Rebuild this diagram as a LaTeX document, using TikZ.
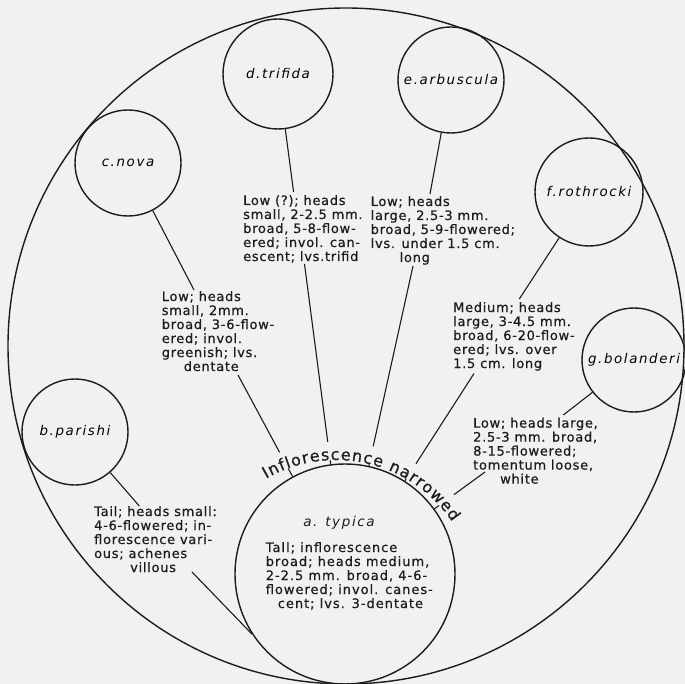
\documentclass[tikz,border=0pt]{standalone}
\usepackage{fontspec}
\setmainfont{DejaVu Sans}
\newfontfamily\notefont[LetterSpace=5.5,FakeBold=0.6]{DejaVu Sans}
\newfontfamily\widenotefont[LetterSpace=7.5,FakeBold=0.6]{DejaVu Sans}
\newfontfamily\taxonfont[LetterSpace=12,ItalicFont={DejaVu Sans Oblique}]{DejaVu Sans}
\newfontfamily\arcfont[FakeBold=0.6]{DejaVu Sans}
\usetikzlibrary{decorations.text}
\definecolor{paper}{RGB}{241,241,241}
\definecolor{ink}{RGB}{28,28,28}
\begin{document}
\begin{tikzpicture}[x=1pt,y=-1pt,
  ring/.style={circle, draw=ink, line width=1.4pt, minimum size=#1, inner sep=0pt,
    font=\taxonfont\itshape\fontsize{13.4}{15}\selectfont},
  note/.style={align=left, inner sep=0pt, anchor=base west, text=ink,
    font=\notefont\fontsize{13}{14}\selectfont},
  conn/.style={draw=ink, line width=1.1pt}]
\fill[paper] (0,0) rectangle (685,684);
\useasboundingbox (0,0) rectangle (685,684);

% enclosing circle and the varieties
\node[ring=676pt] (frame) at (346,346) {};
\node[ring=220pt] (atyp) at (345,574) {};
\node[ring=106pt] (bpar) at (75,432) {b.parishi};
\node[ring=106pt] (cnov) at (128,163) {c.nova};
\node[ring=110pt] (dtri) at (278,74) {d.trifida};
\node[ring=106pt] (earb) at (451,80) {e.arbuscula};
\node[ring=108pt] (frot) at (589,192) {f.rothrocki};
\node[ring=104pt] (gbol) at (634,360) {g.bolanderi};

% a. typica: name and description inside the circle
% (description nodes are placed by the baseline of their last line)
\node[font=\taxonfont\itshape\fontsize{13.5}{14}\selectfont, text=ink, anchor=base, inner sep=0pt]
  (aname) at (339,526) {a. typica};
\node[note, font=\widenotefont\fontsize{13}{14}\selectfont] (atext) at (265.6,608)
  {Tall; inflorescence\\broad; heads medium,\\2-2.5 mm. broad, 4-6-\\flowered; invol. canes-\\\hspace*{12pt}cent; lvs. 3-dentate};

% descriptions of the varieties
\node[note] (btext) at (94,572)
  {Tail; heads small:\\4-6-flowered; in-\\florescence vari-\\ous; achenes\\\hspace*{36pt}villous};
\node[note] (ctext) at (161.6,371)
  {Low; heads\\small, 2mm.\\broad, 3-6-flow-\\ered; invol.\\greenish; lvs.\\\hspace*{22pt}dentate};
\node[note] (dtext) at (243,261)
  {Low (?); heads\\small, 2-2.5 mm.\\broad, 5-8-flow-\\ered; invol. can-\\escent; lvs.trifid};
\node[note] (etext) at (370.5,262)
  {Low; heads\\large, 2.5-3 mm.\\broad, 5-9-flowered;\\lvs. under 1.5 cm.\\\hspace*{29pt}long};
\node[note] (ftext) at (453,368)
  {Medium; heads\\large, 3-4.5 mm.\\broad, 6-20-flow-\\ered; lvs. over\\1.5 cm. long};
\node[note] (gtext) at (473,483.6)
  {Low; heads large,\\2.5-3 mm. broad,\\8-15-flowered;\\tomentum loose,\\\hspace*{27pt}white};

% connector end points at the descriptions
\coordinate (b1) at (139.3,506);  \coordinate (b2) at (192,572);
\coordinate (c1) at (194,290);    \coordinate (c2) at (238,375);
\coordinate (d1) at (293.6,192);  \coordinate (d2) at (304.5,264);
\coordinate (e1) at (430,194);    \coordinate (e2) at (413,266);
\coordinate (f1) at (519.3,299);  \coordinate (f2) at (474,373.5);
\coordinate (g1) at (563.3,415);  \coordinate (g2) at (485,472);

% connectors
\path[conn] (bpar) -- (b1);  \path[conn] (b2) -- (atyp.213);
\path[conn] (cnov) -- (c1);  \path[conn] (c2) -- (atyp);
\path[conn] (dtri) -- (d1);  \path[conn] (d2) -- (atyp);
\path[conn] (earb) -- (e1);  \path[conn] (e2) -- (atyp);
\path[conn] (frot) -- (f1);  \path[conn] (f2) -- (atyp);
\path[conn] (gbol) -- (g1);  \path[conn] (g2) -- (atyp);

% curved heading over a. typica, with a clear band behind it
\coordinate (tcen) at (336,600);
\draw[paper, line width=18pt] (tcen) ++(-125:149) arc[start angle=-125, end angle=-29, radius=149];
\path[decorate, decoration={text along path, text align=fit to path,
    text={|\arcfont\fontsize{16}{18}\selectfont\color{ink}|Inflorescence narrowed}}]
  (tcen) ++(-120:140) arc[start angle=-120, end angle=-34, radius=140];
\end{tikzpicture}
\end{document}
